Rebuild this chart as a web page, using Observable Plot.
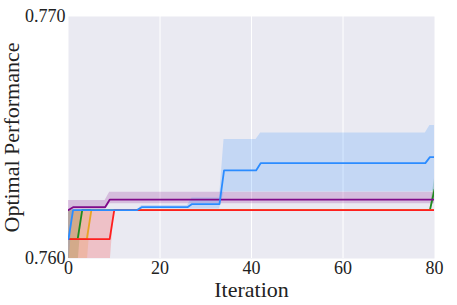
<!DOCTYPE html>
<html>
<head>
<meta charset="utf-8">
<script src="https://cdn.jsdelivr.net/npm/d3@7"></script>
<script src="https://cdn.jsdelivr.net/npm/@observablehq/plot@0.6"></script>
<style>
  html, body { margin: 0; padding: 0; background: #fff; }
  #chart svg, #chart svg text { font-family: "Liberation Serif", "DejaVu Serif", serif !important; font-variant: normal !important; }
</style>
</head>
<body>
<div id="chart"></div>
<script>
// Breakpoint vertices (iteration, mean, lower, upper)
const redIter  = [0, 9, 10, 80];
const redMean  = [0.7608, 0.7608, 0.7620, 0.7620];
const redLo    = [0.7596, 0.7596, 0.7620, 0.7620];
const redHi    = [0.7620, 0.7620, 0.7620, 0.7620];

const greenIter = [0, 2, 3, 79, 80];
const greenMean = [0.7608, 0.7608, 0.7620, 0.7620, 0.76285];
const greenLo   = [0.7596, 0.7596, 0.7620, 0.7620, 0.7624];
const greenHi   = [0.7620, 0.7620, 0.7620, 0.7620, 0.7633];

const orangeIter = [0, 4, 5, 80];
const orangeMean = [0.7608, 0.7608, 0.7620, 0.7620];
const orangeLo   = [0.7596, 0.7596, 0.7620, 0.7620];
const orangeHi   = [0.7620, 0.7620, 0.7620, 0.7620];

const purpleIter = [0, 1, 8, 9, 80];
const purpleMean = [0.7620, 0.76212, 0.76212, 0.76243, 0.76243];
const purpleLo   = [0.7620, 0.7620, 0.7620, 0.76226, 0.76226];
const purpleHi   = [0.7624, 0.7624, 0.7624, 0.76274, 0.76274];

const blueIter = [0, 1, 15, 16, 26, 27, 33, 34, 41, 42, 78, 79, 80];
const blueMean = [0.7608, 0.7620, 0.7620, 0.76212, 0.76212, 0.76225, 0.76225, 0.76364, 0.76364, 0.76394, 0.76394, 0.76419, 0.76419];
const blueLo   = [0.7596, 0.7620, 0.7620, 0.76205, 0.76205, 0.76205, 0.76205, 0.76275, 0.76275, 0.76275, 0.76275, 0.76275, 0.76280];
const blueHi   = [0.7620, 0.7620, 0.7620, 0.76219, 0.76219, 0.76250, 0.76250, 0.76492, 0.76492, 0.76519, 0.76519, 0.76550, 0.76550];

const xTicks = [0, 20, 40, 60, 80];
const yTicks = [0.760, 0.770];
const xLabel = "Iteration";
const yLabel = "Optimal Performance";

const FONT = "'Liberation Serif', 'DejaVu Serif', serif";

const series = [
  {name: "green",  color: "#1f8a1f", it: greenIter,  m: greenMean,  lo: greenLo,  hi: greenHi},
  {name: "orange", color: "#e8a323", it: orangeIter, m: orangeMean, lo: orangeLo, hi: orangeHi},
  {name: "red",    color: "#ff1f1f", it: redIter,    m: redMean,    lo: redLo,    hi: redHi},
  {name: "purple", color: "#800a8a", it: purpleIter, m: purpleMean, lo: purpleLo, hi: purpleHi},
  {name: "blue",   color: "#2b8cff", it: blueIter,   m: blueMean,   lo: blueLo,   hi: blueHi}
];

const rows = s => s.it.map((x, i) => ({x, m: s.m[i], lo: s.lo[i], hi: s.hi[i]}));

const marks = [
  Plot.frame({fill: "#eaeaf2", stroke: null}),
  Plot.gridX(xTicks.slice(1, -1), {stroke: "#fff", strokeOpacity: 1, strokeWidth: 1})
];
for (const s of series) {
  marks.push(Plot.areaY(rows(s), {x: "x", y1: "lo", y2: "hi", fill: s.color, fillOpacity: 0.2, clip: true}));
}
for (const s of series) {
  marks.push(Plot.lineY(rows(s), {x: "x", y: "m", stroke: s.color, strokeWidth: 1.8, clip: true}));
}
marks.push(
  Plot.axisX({ticks: xTicks, tickSize: 0, tickPadding: 3, fontSize: 18, fontFamily: FONT, label: null}),
  Plot.axisY({ticks: yTicks, tickSize: 0, tickPadding: 3, fontSize: 18, fontFamily: FONT, tickFormat: d3.format(".3f"), label: null}),
  Plot.text([xLabel], {text: d => d, frameAnchor: "bottom", dy: 31, fontSize: 22, fontFamily: FONT, lineAnchor: "middle", textAnchor: "middle"}),
  Plot.text([yLabel], {text: d => d, frameAnchor: "left", dx: -57, rotate: -90, fontSize: 22, fontFamily: FONT, lineAnchor: "middle", textAnchor: "middle"})
);

const chart = Plot.plot({
  width: 457,
  height: 305,
  marginLeft: 68,
  marginRight: 23,
  marginTop: 16,
  marginBottom: 47,
  x: {domain: [0, 80]},
  y: {domain: [0.760, 0.770]},
  style: {fontFamily: FONT, color: "#222", background: "#fff", overflow: "visible"},
  marks
});
document.getElementById("chart").appendChild(chart);
</script>
</body>
</html>
